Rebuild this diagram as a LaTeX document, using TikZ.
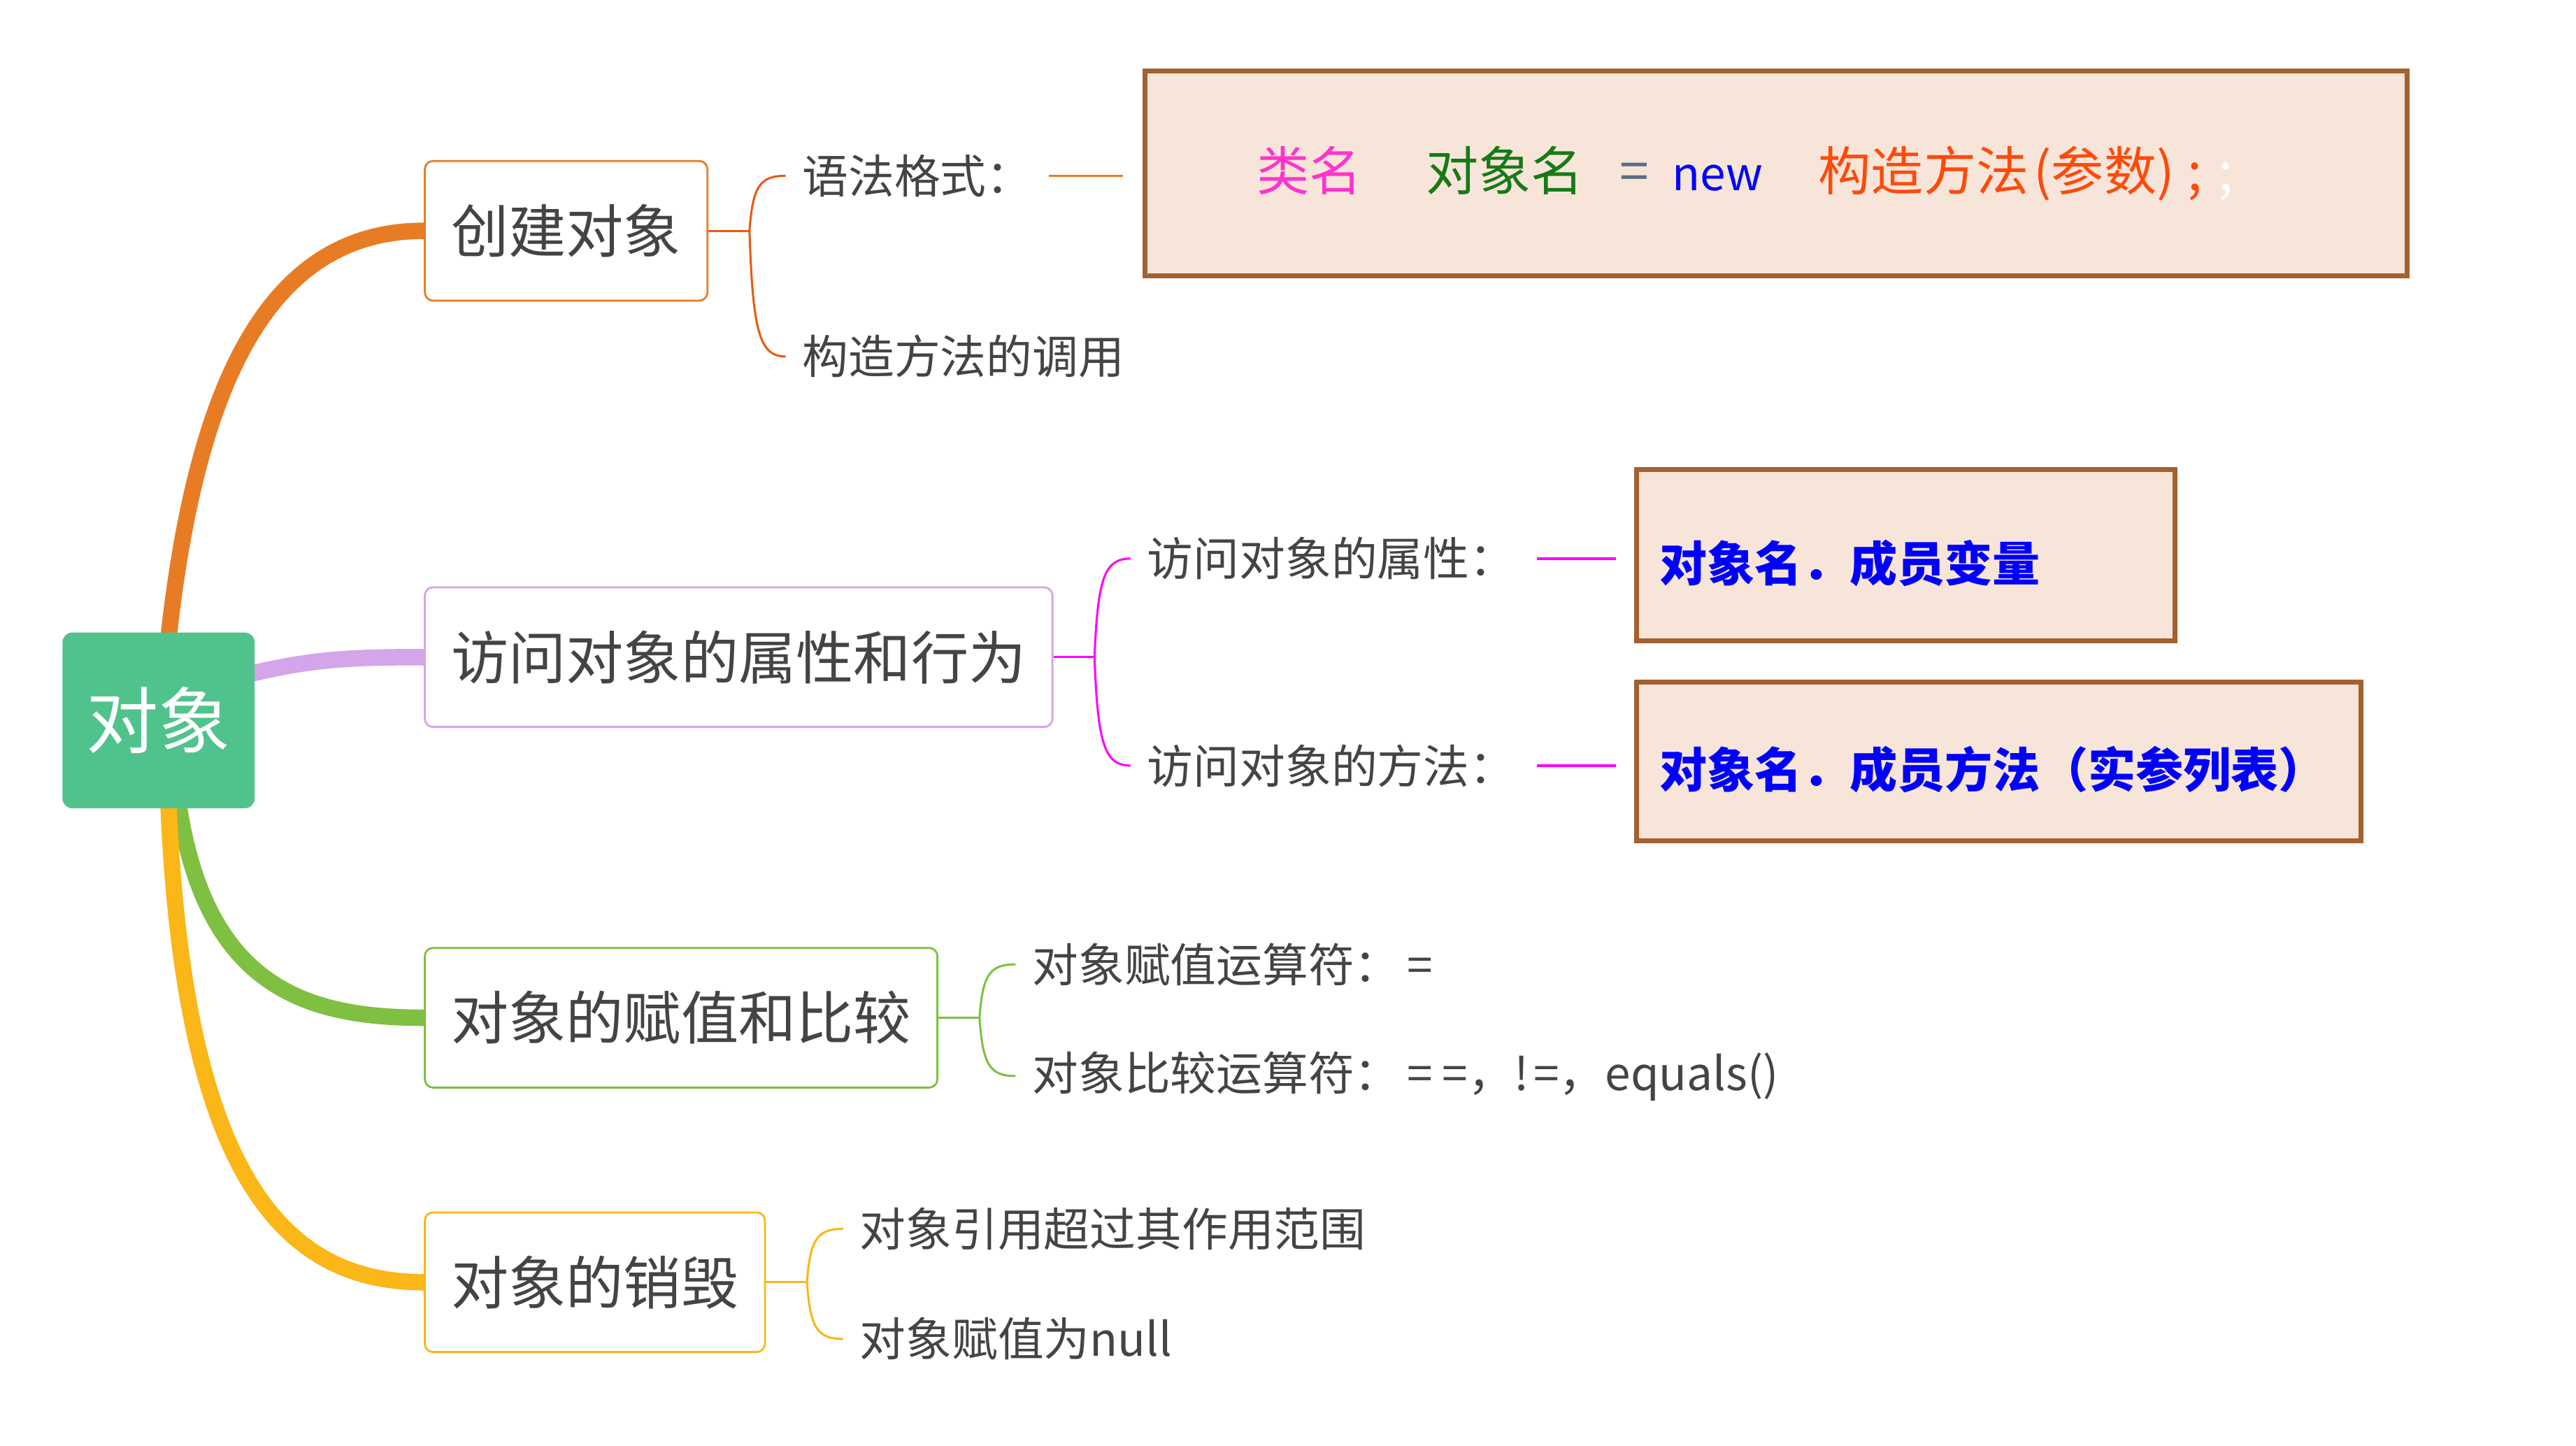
\documentclass[tikz,border=0pt]{standalone}
\usepackage{fontspec}
\setmainfont{Noto Sans CJK SC}
\usetikzlibrary{calc,backgrounds}
\definecolor{Ink}{HTML}{444444}
\definecolor{RootGreen}{HTML}{50C38D}
\definecolor{BrOrange}{HTML}{E87C25}
\definecolor{BrRed}{HTML}{EA5A12}
\definecolor{BrLilac}{HTML}{D4A5E9}
\definecolor{BrMagenta}{HTML}{FF00FF}
\definecolor{BrGreen}{HTML}{7FBF42}
\definecolor{BrYellow}{HTML}{FBB617}
\definecolor{CodeFill}{HTML}{F8E5D9}
\definecolor{CodeEdge}{HTML}{A2612F}
\definecolor{KwPink}{HTML}{FF33CC}
\definecolor{KwGreen}{HTML}{167A16}
\definecolor{KwBlue}{HTML}{0000FF}
\definecolor{KwRed}{HTML}{FF4A0A}
\definecolor{KwGray}{HTML}{5B6C85}
\newcommand{\Brace}[3]{%
  \draw[brace,#3] (#1) .. controls ($(#1)!0.8!(#1|-#2.west)+(2,0)$) and ($(#1|-#2.west)+(6,0)$) .. (#2.west);%
}

\begin{document}
\begin{tikzpicture}[x=1pt,y=-1pt,
  root/.style={fill=RootGreen,rounded corners=6pt,minimum width=117pt,minimum height=107pt,inner sep=0pt,text=white,font=\fontsize{44}{48}\selectfont},
  topic/.style={draw,line width=1.2pt,rounded corners=5pt,fill=white,minimum height=85pt,inner xsep=16pt,anchor=west,text=Ink,font=\fontsize{35}{40}\selectfont},
  leaf/.style={anchor=west,inner xsep=10pt,inner ysep=2pt,text=Ink,font=\fontsize{28}{32}\selectfont},
  codebox/.style={draw=CodeEdge,line width=3pt,fill=CodeFill,align=left},
  member/.style={codebox,inner xsep=14pt,text=KwBlue,font=\fontsize{29}{32}\selectfont\bfseries},
  branch/.style={line width=10pt},
  brace/.style={line width=1.3pt},
  link/.style={line width=1.5pt}]
\useasboundingbox (0,0) rectangle (1568,880);

% centre and main topics
\node[root] (obj) at (96.5,438.5) {对象};
\node[topic,draw=BrOrange] (create) at (258,140.5) {创建对象};
\node[topic,draw=BrLilac] (access) at (258,400) {访问对象的属性和行为};
\node[topic,draw=BrGreen] (assign) at (258,619.5) {对象的赋值和比较};
\node[topic,draw=BrYellow] (destroy) at (258,780.5) {对象的销毁};

% forks
\coordinate (fcreate) at ($(create.east)+(25,0)$);
\coordinate (faccess) at ($(access.east)+(25,0)$);
\coordinate (fassign) at ($(assign.east)+(25,0)$);
\coordinate (fdestroy) at ($(destroy.east)+(25,0)$);

% leaves
\node[leaf] (syntax) at ($(create.east)+(47,-33.5)$) {语法格式：};
\node[leaf] (ctor) at ($(create.east)+(47,76.5)$) {构造方法的调用};
\node[leaf] (attr) at ($(access.east)+(47,-60)$) {访问对象的属性：};
\node[leaf] (method) at ($(access.east)+(47,66)$) {访问对象的方法：};
\node[leaf] (assignop) at ($(assign.east)+(47,-32.5)$) {对象赋值运算符：\hspace{4pt}=};
\node[leaf] (compareop) at ($(assign.east)+(47,35.5)$) {对象比较运算符：\hspace{4pt}=\hspace{6pt}=，!\hspace{3pt}=，equals()};
\node[leaf] (outscope) at ($(destroy.east)+(47,-32.5)$) {对象引用超过其作用范围};
\node[leaf] (tonull) at ($(destroy.east)+(47,34.5)$) {对象赋值为null};

% code boxes
\node[codebox,text width=632pt,inner xsep=68pt,minimum height=125pt,font=\fontsize{32}{36}\selectfont] (syntaxbox) at (1081,105.5)
  {\color{KwPink}类名\hspace{39pt}\color{KwGreen}对象名\hspace{22pt}\color{KwGray}=\hspace{14pt}\color{KwBlue}{\fontsize{28}{32}\selectfont new}\hspace{34pt}\color{KwRed}构造方法\hspace{3pt}(参数)\hspace{8pt};\hspace{10pt}\color{white};};
\node[member,text width=300pt,minimum height=104pt] (attrbox) at (1160,338) {\raisebox{-5pt}[\height][\depth]{对象名．成员变量}};
\node[member,text width=413pt,minimum height=97pt] (methodbox) at (1216.5,463.5) {\raisebox{-5pt}[\height][\depth]{对象名．成员方法（实参列表）}};

\begin{scope}[on background layer]
\draw[branch,BrOrange] ($(obj.north)+(6,4)$) .. controls (120,230) and (165,140.5) .. (create.west);
\draw[branch,BrLilac] ($(obj.east)+(-4,-28)$) .. controls (190,401) and (215,400) .. (access.west);
\draw[branch,BrGreen] ($(obj.south)+(12,-4)$) .. controls (125,600) and (185,619.5) .. (assign.west);
\draw[branch,BrYellow] ($(obj.south)+(6,-4)$) .. controls (112,720) and (175,780.5) .. (destroy.west);
\end{scope}

\draw[brace,BrRed] (create.east) -- (fcreate);
\Brace{fcreate}{syntax}{BrRed}
\Brace{fcreate}{ctor}{BrRed}
\draw[brace,BrMagenta] (access.east) -- (faccess);
\Brace{faccess}{attr}{BrMagenta}
\Brace{faccess}{method}{BrMagenta}
\draw[brace,BrGreen] (assign.east) -- (fassign);
\Brace{fassign}{assignop}{BrGreen}
\Brace{fassign}{compareop}{BrGreen}
\draw[brace,BrYellow] (destroy.east) -- (fdestroy);
\Brace{fdestroy}{outscope}{BrYellow}
\Brace{fdestroy}{tonull}{BrYellow}

\draw[link,BrOrange,shorten >=12pt] (syntax.east) -- (syntax.east -| syntaxbox.west);
\draw[link,BrMagenta,shorten <=3pt,shorten >=11pt] (attr.east) -- (attr.east -| attrbox.west);
\draw[link,BrMagenta,shorten <=3pt,shorten >=11pt] (method.east) -- (method.east -| methodbox.west);
\end{tikzpicture}
\end{document}
